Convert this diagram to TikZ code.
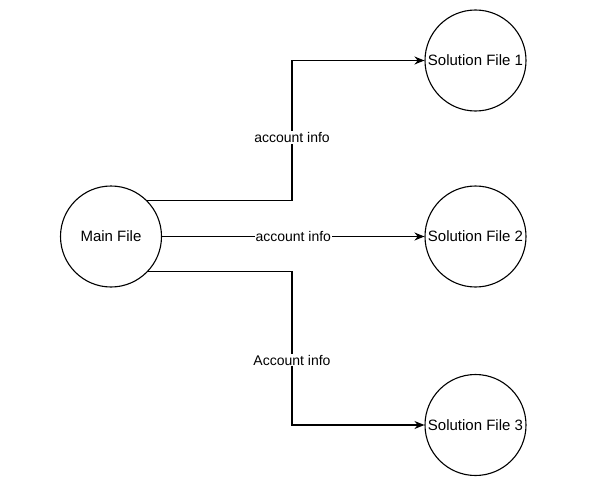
\documentclass[tikz,border=0pt]{standalone}
\usepackage{fontspec}
\setmainfont{Liberation Sans}
\usetikzlibrary{arrows.meta}
\begin{document}
\begin{tikzpicture}[x=1pt,y=-1pt,
  filecircle/.style={circle,draw=black,line width=1.1pt,minimum size=101pt,inner sep=0pt,font=\fontsize{15}{17}\selectfont},
  conn/.style={draw=black,line width=1.1pt,-{Stealth[length=10pt,width=8pt]}},
  lbl/.style={fill=white,inner sep=1pt,font=\fontsize{14}{16}\selectfont}]
\useasboundingbox (0,0) rectangle (600,487);
\node[filecircle] (m) at (111,236.5) {Main File};
\node[filecircle] (s1) at (475.5,60.5) {Solution File 1};
\node[filecircle] (s2) at (475.5,236.5) {Solution File 2};
\node[filecircle] (s3) at (475.5,425) {Solution File 3};
\coordinate (j) at (292,0);
\draw[conn] (m.45) -- (m.45 -| j) |- node[lbl,pos=0.225] {account info} (s1.west);
\draw[conn] (m.east) -- node[lbl,pos=0.5] {account info} (s2.west);
\draw[conn] (m.-43) -- (m.-43 -| j) |- node[lbl,pos=0.289] {Account info} (s3.west);
\end{tikzpicture}
\end{document}
